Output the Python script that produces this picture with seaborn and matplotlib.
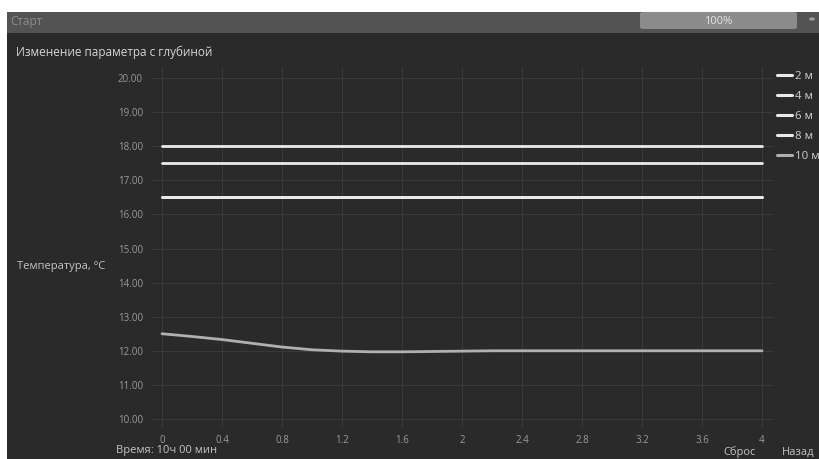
import pandas as pd
import seaborn as sns
import matplotlib
matplotlib.use("Agg")
import matplotlib.pyplot as plt
from matplotlib.patches import Rectangle, FancyBboxPatch, Circle

# data
time_coarse = [0, 0.4, 0.8, 1.2, 1.6, 2.0, 2.4, 2.8, 3.2, 3.6, 4.0]
temp_2m = [18.0, 18.0, 18.0, 18.0, 18.0, 18.0, 18.0, 18.0, 18.0, 18.0, 18.0]
temp_4m = [17.5, 17.5, 17.5, 17.5, 17.5, 17.5, 17.5, 17.5, 17.5, 17.5, 17.5]
temp_6m = [16.5, 16.5, 16.5, 16.5, 16.5, 16.5, 16.5, 16.5, 16.5, 16.5, 16.5]
temp_8m = [16.5, 16.5, 16.5, 16.5, 16.5, 16.5, 16.5, 16.5, 16.5, 16.5, 16.5]
time_fine = [0, 0.2, 0.4, 0.6, 0.8, 1.0, 1.2, 1.4, 1.6, 1.8, 2.0,
             2.2, 2.4, 2.6, 2.8, 3.0, 3.2, 3.4, 3.6, 3.8, 4.0]
temp_10m = [12.50, 12.42, 12.33, 12.22, 12.11, 12.03, 11.99, 11.97, 11.97, 11.98, 11.99,
            12.0, 12.0, 12.0, 12.0, 12.0, 12.0, 12.0, 12.0, 12.0, 12.0]

depths = ["2 м", "4 м", "6 м", "8 м", "10 м"]
x_ticks = [0, 0.4, 0.8, 1.2, 1.6, 2.0, 2.4, 2.8, 3.2, 3.6, 4.0]
x_tick_labels = ["0", "0.4", "0.8", "1.2", "1.6", "2", "2.4", "2.8", "3.2", "3.6", "4"]
y_ticks = [10, 11, 12, 13, 14, 15, 16, 17, 18, 19, 20]

frames = []
for name, t, v in [("2 м", time_coarse, temp_2m), ("4 м", time_coarse, temp_4m),
                   ("6 м", time_coarse, temp_6m), ("8 м", time_coarse, temp_8m),
                   ("10 м", time_fine, temp_10m)]:
    frames.append(pd.DataFrame({"time": t, "temp": v, "depth": name}))
df = pd.concat(frames, ignore_index=True)

palette = {"2 м": "#ebebeb", "4 м": "#ebebeb", "6 м": "#ebebeb",
           "8 м": "#ebebeb", "10 м": "#b0b0b0"}

sns.set_theme(style="dark")
plt.rcParams["font.family"] = ["Open Sans", "DejaVu Sans"]

BG = "#2b2a2b"
W, H = 820, 459


def fx(px):
    return px / W


def fy(py):
    return 1 - py / H


fig = plt.figure(figsize=(8.2, 4.59), dpi=100, facecolor=BG)

# white margins and top bar
fig.patches.append(Rectangle((0, fy(12)), 1, 12 / H, transform=fig.transFigure,
                             facecolor="white", edgecolor="none", zorder=0))
fig.patches.append(Rectangle((0, 0), fx(7), 1, transform=fig.transFigure,
                             facecolor="white", edgecolor="none", zorder=0))
fig.patches.append(Rectangle((fx(7), fy(33)), 1, 21 / H, transform=fig.transFigure,
                             facecolor="#535353", edgecolor="none", zorder=0))
fig.patches.append(FancyBboxPatch((fx(640), fy(29)), fx(797 - 640), 17 / H,
                                  boxstyle="round,pad=0,rounding_size=0.004",
                                  transform=fig.transFigure, facecolor="#8c8c8c",
                                  edgecolor="none", zorder=1))
fig.patches.append(Circle((fx(812), fy(19)), 0.0035, transform=fig.transFigure,
                          facecolor="#9e9e9e", edgecolor="none", zorder=1))
fig.text(fx(10), fy(22), "Старт", color="#8e8e8e", fontsize=8.5, va="center", ha="left")
fig.text(fx(718), fy(21), "100%", color="#e4e4e4", fontsize=8, va="center", ha="center")

fig.text(fx(16), fy(52), "Изменение параметра с глубиной", color="#d6d6d6",
         fontsize=8.5, va="center", ha="left")
fig.text(fx(17), fy(266), "Температура, °C", color="#c4c4c4", fontsize=8,
         va="center", ha="left")
fig.text(fx(116), fy(451), "Время: 10ч 00 мин", color="#c4c4c4", fontsize=8,
         va="center", ha="left")
fig.text(fx(723), fy(452), "Сброс", color="#c4c4c4", fontsize=8, va="center", ha="left")
fig.text(fx(782), fy(452), "Назад", color="#c4c4c4", fontsize=8, va="center", ha="left")

ax = fig.add_axes([fx(152), fy(427), fx(774 - 152), (427 - 67) / H])
ax.set_facecolor(BG)
sns.lineplot(data=df, x="time", y="temp", hue="depth", hue_order=depths,
             palette=palette, linewidth=2.0, ax=ax)

ax.set_xlim(-10 / 150, 4 + 12 / 150)
ax.set_ylim(10 - 8 / 34.1, 20 + 11 / 34.1)
ax.set_xticks(x_ticks)
ax.set_xticklabels(x_tick_labels)
ax.set_yticks(y_ticks)
ax.set_yticklabels([f"{v:.2f}" for v in y_ticks])
ax.tick_params(axis="both", length=0, labelsize=7, colors="#9a9a9a")
ax.tick_params(axis="y", pad=6.5)
ax.tick_params(axis="x", pad=6)
ax.grid(True, color="#3b393b", linewidth=0.8)
ax.set_axisbelow(True)
for s in ax.spines.values():
    s.set_visible(False)
ax.set_xlabel("")
ax.set_ylabel("")

handles, labels = ax.get_legend_handles_labels()
ax.get_legend().remove()
leg = fig.legend(handles, labels, loc="upper left", bbox_to_anchor=(fx(777), fy(71)),
                 frameon=False, fontsize=8.2, handlelength=1.3, handletextpad=0.3,
                 labelspacing=0.78, borderpad=0, borderaxespad=0)
for t in leg.get_texts():
    t.set_color("#cfcfcf")
for h in leg.get_lines():
    h.set_linewidth(2.2)

fig.savefig("out.png", dpi=100, facecolor=BG)
